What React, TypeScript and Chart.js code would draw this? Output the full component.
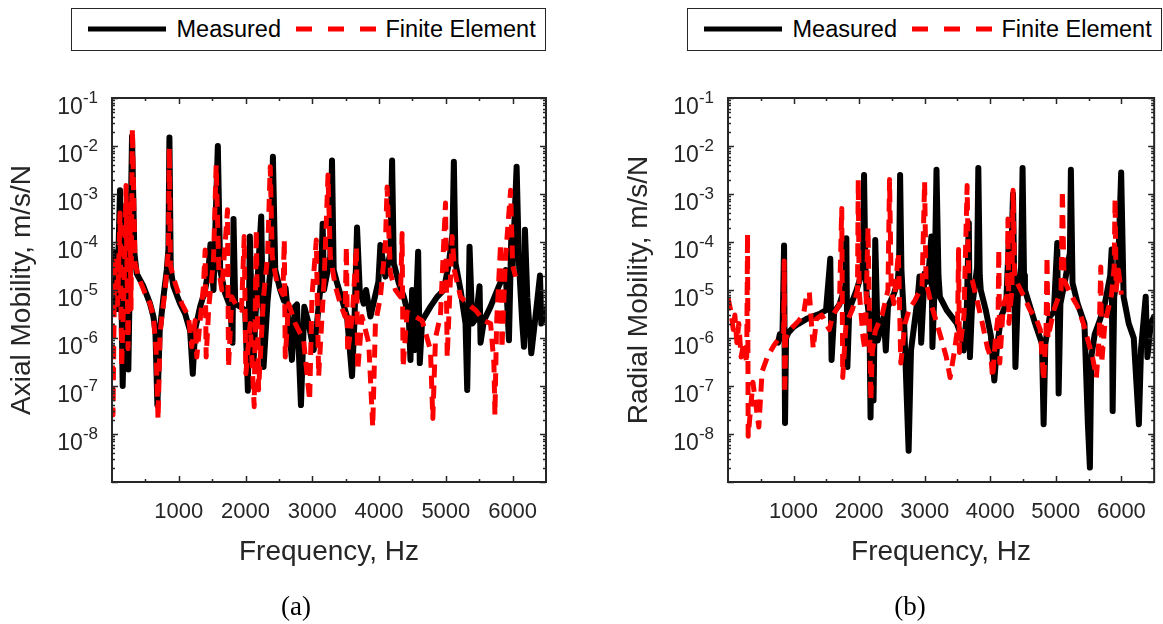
import React, { useEffect, useRef } from "react";
import { Chart, registerables } from "chart.js";

Chart.register(...registerables);

const SANS = "'Liberation Sans', Arial, Helvetica, sans-serif";
const SERIF = "'Liberation Serif', 'Times New Roman', serif";
const AXIS_COLOR = "#262626";

// ---- ticks ----
const xTickValues = [500, 1000, 1500, 2000, 2500, 3000, 3500, 4000, 4500, 5000, 5500, 6000];
const xTickLabels = ["", "1000", "", "2000", "", "3000", "", "4000", "", "5000", "", "6000"];
const yTickValues = [1e-9, 1e-8, 1e-7, 1e-6, 1e-5, 1e-4, 1e-3, 1e-2, 1e-1];
const yTickBase = ["", "10", "10", "10", "10", "10", "10", "10", "10"];
const yTickExponent = ["", "-8", "-7", "-6", "-5", "-4", "-3", "-2", "-1"];
const yMinorFactors = [2, 3, 4, 5, 6, 7, 8, 9];

// ---- data: [frequency Hz, mobility m/s/N] ----
const axialMeasured: [number, number][] = [
  [10, 4e-6], [50, 6e-5], [75, 4e-6], [120, 1.2e-3], [160, 1e-7], [215, 6e-4], [245, 2.2e-7],
  [300, 1.6e-2], [335, 6e-5], [370, 2.2e-5], [470, 1.2e-5], [570, 5.2e-6], [620, 2.8e-6],
  [650, 1.4e-6], [680, 4e-8], [715, 1.4e-6], [770, 7e-6], [820, 2.6e-5], [845, 7e-5],
  [860, 1.5e-2], [880, 2.6e-5], [920, 1.2e-5], [1020, 5.2e-6], [1095, 3.2e-6], [1170, 1.4e-6],
  [1210, 1.8e-7], [1245, 1.5e-6], [1320, 4.5e-6], [1395, 1e-5], [1445, 2.6e-5], [1475, 9e-5],
  [1520, 1e-5], [1585, 1e-2], [1620, 2.6e-5], [1695, 8.5e-6], [1770, 4.5e-6], [1805, 8e-7],
  [1820, 3e-4], [1845, 5.2e-6], [1920, 4.5e-6], [1995, 3.8e-6], [2035, 8e-8], [2065, 1.3e-4],
  [2090, 4e-6], [2120, 3e-7], [2150, 3e-6], [2235, 3.4e-4], [2270, 2.5e-7], [2330, 6e-6],
  [2385, 4e-5], [2410, 6e-3], [2445, 2.6e-5], [2520, 1e-5], [2575, 6e-6], [2600, 1.1e-5],
  [2695, 3.5e-7], [2740, 4.5e-6], [2770, 5e-6], [2830, 4e-8], [2880, 4.5e-6], [2945, 2e-6],
  [3020, 5.6e-7], [3070, 2e-6], [3130, 1.5e-5], [3155, 2.4e-4], [3175, 1e-5], [3270, 5e-5],
  [3295, 5e-3], [3320, 2.6e-5], [3370, 1.4e-5], [3445, 6.3e-6], [3520, 2.8e-6], [3595, 1.6e-7],
  [3630, 2e-6], [3670, 2e-4], [3710, 1e-5], [3770, 5.2e-6], [3805, 1e-5], [3870, 2.8e-6],
  [3990, 1.5e-5], [4020, 8.7e-5], [4095, 1.9e-5], [4170, 6e-5], [4195, 5e-3], [4220, 3.6e-5],
  [4295, 1.4e-5], [4370, 7.2e-6], [4445, 2.8e-6], [4470, 3.5e-7], [4495, 1e-5], [4530, 5.6e-7],
  [4585, 6.3e-5], [4610, 3e-7], [4645, 2.3e-6], [4770, 4.5e-6], [4870, 7.2e-6], [4970, 1e-5],
  [5045, 3.6e-5], [5100, 1.5e-4], [5120, 4.7e-3], [5145, 3.6e-5], [5220, 1e-5], [5295, 2e-6],
  [5320, 8.3e-8], [5355, 8e-5], [5395, 2e-6], [5450, 2.5e-6], [5505, 1.2e-5], [5520, 8e-7],
  [5570, 2.3e-6], [5670, 4.5e-6], [5770, 1e-5], [5895, 2.6e-5], [5945, 9e-7], [5980, 1.3e-4],
  [6000, 3e-5], [6060, 3.7e-3], [6095, 3.6e-5], [6145, 2e-6], [6170, 6.6e-7], [6185, 1.8e-4],
  [6220, 7e-6], [6280, 4.8e-7], [6345, 3e-6], [6410, 2e-5], [6430, 2e-6], [6520, 4.5e-6],
];

const axialFiniteElement: [number, number][] = [
  [0, 2e-6], [15, 2.5e-8], [35, 1e-5], [60, 5e-5], [85, 5e-6], [120, 4e-4], [145, 2.5e-7],
  [185, 2e-5], [210, 1.5e-3], [240, 6e-7], [265, 6e-4], [285, 4e-6], [305, 2.3e-2], [345, 3.6e-5],
  [395, 1.9e-5], [495, 8.5e-6], [570, 5.2e-6], [620, 2.8e-6], [660, 5.6e-7], [690, 2e-8],
  [720, 1.3e-6], [795, 1e-5], [845, 6.8e-5], [858, 9e-3], [875, 3.2e-5], [945, 1.4e-5],
  [1045, 5.2e-6], [1145, 2.8e-6], [1195, 6.6e-7], [1245, 2.3e-6], [1270, 4e-7], [1320, 2.3e-6],
  [1370, 1.2e-5], [1395, 6.8e-5], [1410, 4e-7], [1450, 4.5e-6], [1520, 4.2e-5], [1560, 4e-3],
  [1600, 2.6e-5], [1645, 1e-5], [1730, 4.7e-4], [1745, 2.5e-7], [1795, 7.2e-6], [1870, 4.5e-6],
  [1940, 3.8e-6], [1980, 1.3e-4], [2005, 1.8e-7], [2070, 2e-6], [2130, 3.7e-8], [2160, 1.8e-4],
  [2195, 8.3e-8], [2270, 7.2e-6], [2330, 5e-5], [2370, 3.7e-3], [2400, 5e-5], [2470, 1.4e-5],
  [2560, 8e-6], [2580, 1.1e-4], [2595, 4e-7], [2645, 5.2e-6], [2745, 2e-6], [2870, 9e-7],
  [2960, 5e-8], [2995, 7.2e-6], [3060, 1.1e-4], [3095, 1.6e-7], [3180, 2e-5], [3235, 2.5e-3],
  [3270, 5e-5], [3345, 1.2e-5], [3420, 5.2e-6], [3490, 2.8e-6], [3510, 8e-5], [3530, 4.8e-7],
  [3600, 3e-6], [3660, 8e-5], [3680, 2.1e-7], [3745, 2.8e-6], [3845, 7.9e-7], [3905, 1.4e-8],
  [3945, 2e-6], [4020, 7.2e-6], [4095, 9.3e-5], [4120, 1.4e-3], [4170, 2.2e-5], [4245, 1e-5],
  [4320, 7.2e-6], [4345, 1.5e-4], [4360, 2.5e-7], [4420, 3.5e-6], [4645, 2.3e-6], [4770, 5.6e-7],
  [4805, 2.1e-8], [4845, 1e-6], [4920, 3e-6], [4995, 6.5e-4], [5020, 4e-7], [5095, 1.3e-4],
  [5130, 2.5e-5], [5220, 7.2e-6], [5320, 5.2e-6], [5445, 3.8e-6], [5570, 2.3e-6], [5670, 2e-6],
  [5720, 3e-7], [5735, 2.5e-8], [5760, 2e-6], [5820, 9.3e-5], [5840, 6e-7], [5895, 5e-5],
  [5970, 1.2e-3], [6000, 3.2e-5], [6045, 1.9e-5],
];

const radialMeasured: [number, number][] = [
  [765, 8e-7], [790, 1.2e-6], [830, 1e-6], [855, 8.5e-5], [870, 1.7e-8], [885, 1e-6],
  [923, 1.3e-6], [1000, 1.7e-6], [1080, 2e-6], [1200, 2.5e-6], [1290, 2.8e-6], [1400, 3.2e-6],
  [1495, 3.8e-6], [1560, 4.5e-5], [1580, 3.5e-7], [1620, 3.5e-6], [1700, 5e-6], [1790, 1.2e-5],
  [1805, 1.2e-4], [1821, 2.5e-7], [1850, 4e-6], [1961, 1e-5], [2030, 2e-5], [2060, 4e-5],
  [2075, 2.5e-3], [2095, 3e-5], [2117, 7.2e-6], [2158, 2.3e-6], [2174, 2.2e-8], [2195, 3e-6],
  [2220, 5e-8], [2235, 2e-6], [2246, 1.1e-4], [2283, 8.9e-7], [2376, 2.8e-6], [2407, 5.5e-7],
  [2440, 4.5e-6], [2532, 8.5e-6], [2590, 1.5e-5], [2610, 4e-5], [2625, 2.5e-3], [2645, 2.7e-5],
  [2687, 2e-6], [2755, 4.5e-9], [2791, 5.5e-7], [2843, 2e-6], [2895, 7.2e-6], [2921, 1.9e-5],
  [2947, 8e-7], [2999, 2.2e-5], [3050, 1.5e-5], [3102, 1.3e-4], [3118, 6.5e-7], [3150, 1e-5],
  [3180, 3.2e-3], [3210, 2e-5], [3232, 7.2e-6], [3336, 3.8e-6], [3491, 2e-6], [3570, 1e-6],
  [3595, 5.5e-7], [3640, 3e-6], [3673, 2.5e-4], [3690, 4e-7], [3720, 4e-6], [3800, 3e-5],
  [3818, 3.5e-3], [3840, 2e-5], [3855, 1e-5], [3932, 3.8e-6], [4010, 1.1e-6], [4062, 1.3e-7],
  [4100, 6e-7], [4166, 2.8e-6], [4244, 5.2e-6], [4285, 1.3e-4], [4300, 5e-6], [4347, 1e-3],
  [4384, 2.5e-7], [4420, 7.2e-6], [4470, 3e-5], [4493, 3.5e-3], [4515, 2e-5], [4529, 1e-5],
  [4607, 4.5e-6], [4685, 2e-6], [4789, 7.6e-7], [4814, 1.6e-8], [4840, 7.6e-7], [4908, 2.8e-6],
  [4970, 3.5e-6], [5022, 9.5e-5], [5043, 7e-8], [5070, 5.2e-6], [5152, 1.9e-5], [5215, 6e-5],
  [5230, 3.2e-3], [5255, 1.4e-5], [5333, 5.2e-6], [5437, 2e-6], [5489, 1.6e-8], [5520, 2e-9],
  [5541, 4e-7], [5593, 1.2e-6], [5670, 2.3e-6], [5748, 5.2e-6], [5830, 2e-5], [5852, 7e-5],
  [5867, 3e-8], [5890, 7e-6], [5950, 3e-5], [5997, 2.8e-3], [6034, 7.2e-6], [6112, 2e-6],
  [6189, 1e-6], [6267, 1.6e-8], [6300, 6e-7], [6371, 7.2e-6], [6397, 4e-7], [6449, 2e-6],
  [6500, 2.8e-6],
];

const radialFiniteElement: [number, number][] = [
  [0, 7e-6], [45, 3.5e-6], [80, 1.5e-6], [105, 3e-6], [135, 8e-7], [165, 2e-6], [200, 4e-7],
  [240, 8e-7], [285, 3e-7], [298, 1.5e-4], [308, 9e-9], [380, 1.2e-7], [470, 1.4e-8],
  [520, 2e-7], [600, 4e-7], [700, 7e-7], [780, 1e-6], [850, 1.3e-6], [857, 4e-5], [865, 7e-8],
  [880, 1e-6], [950, 1.5e-6], [1080, 2.3e-6], [1150, 3e-6], [1200, 8e-6], [1240, 9e-6],
  [1300, 6e-7], [1350, 2.5e-6], [1430, 3e-6], [1545, 1.5e-6], [1600, 3e-6], [1700, 5e-6],
  [1735, 5e-4], [1750, 1.5e-7], [1800, 2e-6], [1900, 4e-6], [1975, 1e-5], [1987, 2e-3],
  [2000, 1e-5], [2060, 1e-6], [2091, 5.5e-7], [2135, 2e-4], [2179, 5e-8], [2200, 5e-7],
  [2246, 1.4e-6], [2350, 3e-6], [2440, 1e-5], [2464, 2e-3], [2490, 1e-5], [2532, 5.2e-6],
  [2599, 6e-5], [2636, 3e-7], [2700, 2e-6], [2765, 4e-6], [2850, 6e-6], [2960, 1.2e-5],
  [2999, 1.8e-3], [3020, 1.5e-5], [3100, 5e-6], [3250, 1e-6], [3330, 4e-7], [3388, 1.5e-7],
  [3450, 5e-7], [3500, 1.5e-6], [3517, 7e-5], [3530, 5e-7], [3600, 3e-6], [3647, 1.5e-3],
  [3670, 2e-5], [3725, 1.6e-5], [3800, 6e-6], [3880, 2e-6], [3960, 6e-7], [4010, 4e-7],
  [4036, 1.5e-7], [4080, 1e-6], [4120, 3e-6], [4130, 7e-5], [4145, 3e-7], [4200, 5e-6],
  [4260, 8e-6], [4270, 3e-4], [4285, 2e-6], [4330, 1e-5], [4348, 1.2e-3], [4370, 2e-5],
  [4400, 1.5e-5], [4500, 8e-6], [4600, 4e-6], [4700, 2.5e-6], [4763, 1.5e-6], [4814, 1.3e-7],
  [4850, 1.2e-6], [4866, 5e-5], [4880, 1e-6], [4970, 3.8e-6], [5080, 1e-5], [5100, 1.2e-3],
  [5126, 1.6e-5], [5230, 8e-6], [5333, 4.5e-6], [5420, 2e-6], [5489, 9e-7], [5560, 4e-7],
  [5619, 1.5e-7], [5660, 1e-6], [5686, 3e-5], [5700, 3e-7], [5748, 2e-6], [5850, 8e-6],
  [5890, 3e-5], [5904, 8e-4], [5920, 1e-5], [5956, 2.6e-5], [6000, 8e-6],
];

const toPoints = (d: [number, number][]) => d.map(([x, y]) => ({ x, y }));

// Draws the box frame, inward tick marks and the power-of-ten y labels
const frameTicksPlugin = {
  id: "frameTicks",
  afterDatasetsDraw(chart: any) {
    const { ctx, chartArea } = chart;
    const { left, top, right, bottom } = chartArea;
    const xs = chart.scales.x;
    const ys = chart.scales.y;
    ctx.save();
    ctx.strokeStyle = AXIS_COLOR;
    ctx.lineWidth = 1.5;
    ctx.beginPath();
    xs.ticks.forEach((t: any) => {
      const px = Math.round(xs.getPixelForValue(t.value)) + 0.5;
      const len = t.value % 1000 === 0 ? 6 : 3;
      ctx.moveTo(px, bottom);
      ctx.lineTo(px, bottom - len);
      ctx.moveTo(px, top);
      ctx.lineTo(px, top + len);
    });
    ys.ticks.forEach((t: any) => {
      const py = Math.round(ys.getPixelForValue(t.value)) + 0.5;
      ctx.moveTo(left, py);
      ctx.lineTo(left + 6, py);
      ctx.moveTo(right, py);
      ctx.lineTo(right - 6, py);
      yMinorFactors.forEach((k) => {
        const v = t.value * k;
        if (v >= 0.1) return;
        const pm = Math.round(ys.getPixelForValue(v)) + 0.5;
        ctx.moveTo(left, pm);
        ctx.lineTo(left + 3, pm);
        ctx.moveTo(right, pm);
        ctx.lineTo(right - 3, pm);
      });
    });
    ctx.stroke();
    ctx.lineWidth = 2;
    ctx.strokeRect(left, top, right - left, bottom - top);

    // y tick labels: base "10" with raised exponent
    ctx.fillStyle = AXIS_COLOR;
    ctx.textBaseline = "alphabetic";
    ys.ticks.forEach((t: any, i: number) => {
      const base = yTickBase[i];
      const exp = yTickExponent[i];
      if (!base) return;
      const py = ys.getPixelForValue(t.value);
      const xr = left - 14;
      ctx.font = `17px ${SANS}`;
      ctx.textAlign = "right";
      const ew = ctx.measureText(exp).width;
      ctx.fillText(exp, xr, py + 4.5);
      ctx.font = `23px ${SANS}`;
      ctx.fillText(base, xr - ew, py + 16);
    });
    ctx.restore();
  },
};

type PanelProps = {
  left: number;
  width: number;
  yTitle: string;
  yAxisWidth: number;
  yTitlePad: number;
  padRight: number;
  measured: [number, number][];
  fe: [number, number][];
};

const HEIGHT = 624;

function Panel(p: PanelProps) {
  const ref = useRef<HTMLCanvasElement>(null);
  useEffect(() => {
    if (!ref.current) return;
    const chart = new Chart(ref.current, {
      type: "line",
      data: {
        datasets: [
          {
            label: "Finite Element",
            data: toPoints(p.fe),
            borderColor: "#ff0000",
            borderWidth: 5,
            borderDash: [13, 8],
            borderCapStyle: "butt",
            borderJoinStyle: "round",
            pointRadius: 0,
            fill: false,
            tension: 0,
          },
          {
            label: "Measured",
            data: toPoints(p.measured),
            borderColor: "#000000",
            borderWidth: 6,
            borderCapStyle: "round",
            borderJoinStyle: "round",
            pointRadius: 0,
            fill: false,
            tension: 0,
          },
        ],
      } as any,
      options: {
        animation: false,
        responsive: false,
        devicePixelRatio: 1,
        events: [],
        parsing: false,
        layout: { padding: { top: 98, right: p.padRight, bottom: 0, left: 0 } },
        plugins: { legend: { display: false }, tooltip: { enabled: false } },
        scales: {
          x: {
            type: "linear",
            min: 0,
            max: 6500,
            afterBuildTicks: (s: any) => {
              s.ticks = xTickValues.map((v) => ({ value: v }));
            },
            afterFit: (s: any) => {
              s.height = HEIGHT - 482;
            },
            grid: { display: false, drawTicks: false, tickLength: 0 },
            border: { display: false },
            ticks: {
              autoSkip: false,
              maxRotation: 0,
              padding: 17,
              color: AXIS_COLOR,
              font: { family: SANS, size: 22 },
              callback: (_v: any, i: number) => xTickLabels[i],
            },
            title: {
              display: true,
              text: "Frequency, Hz",
              color: AXIS_COLOR,
              font: { family: SANS, size: 28 },
              padding: { top: 0, bottom: 55 },
            },
          },
          y: {
            type: "logarithmic",
            min: 1e-9,
            max: 1e-1,
            afterBuildTicks: (s: any) => {
              s.ticks = yTickValues.map((v) => ({ value: v, major: true }));
            },
            afterFit: (s: any) => {
              s.width = p.yAxisWidth;
            },
            grid: { display: false, drawTicks: false, tickLength: 0 },
            border: { display: false },
            ticks: { display: false },
            title: {
              display: true,
              text: p.yTitle,
              color: AXIS_COLOR,
              font: { family: SANS, size: 28 },
              padding: { top: p.yTitlePad, bottom: 0 },
            },
          },
        },
      } as any,
      plugins: [frameTicksPlugin],
    });
    return () => chart.destroy();
  }, []);
  return (
    <canvas
      ref={ref}
      width={p.width}
      height={HEIGHT}
      style={{ position: "absolute", left: p.left, top: 0, width: p.width, height: HEIGHT }}
    />
  );
}

function Legend({ x }: { x: number }) {
  return (
    <g transform={`translate(${x},8)`}>
      <rect x={0.5} y={0.5} width={474} height={42} fill="#ffffff" stroke={AXIS_COLOR} strokeWidth={1} />
      <line x1={17} x2={95} y1={21} y2={21} stroke="#000000" strokeWidth={5} />
      <text x={105.5} y={29} fontFamily={SANS} fontSize={23.5} fill="#000000">
        Measured
      </text>
      <line x1={225} x2={305} y1={21} y2={21} stroke="#ff0000" strokeWidth={5} strokeDasharray="16 16" />
      <text x={314.5} y={29} fontFamily={SANS} fontSize={23.5} fill="#000000">
        Finite Element
      </text>
    </g>
  );
}

export default function App() {
  return (
    <div
      style={{
        position: "fixed",
        left: 0,
        top: 0,
        width: 1163,
        height: HEIGHT,
        background: "#ffffff",
        overflow: "hidden",
      }}
    >
      <Panel
        left={0}
        width={580}
        yTitle="Axial Mobility, m/s/N"
        yAxisWidth={112}
        yTitlePad={5}
        padRight={34}
        measured={axialMeasured}
        fe={axialFiniteElement}
      />
      <Panel
        left={580}
        width={583}
        yTitle="Radial Mobility, m/s/N"
        yAxisWidth={148}
        yTitlePad={42}
        padRight={2}
        measured={radialMeasured}
        fe={radialFiniteElement}
      />
      <svg
        width={1163}
        height={HEIGHT}
        style={{ position: "absolute", left: 0, top: 0, pointerEvents: "none" }}
      >
        <Legend x={71} />
        <Legend x={687} />
        <text x={296} y={615} textAnchor="middle" fontFamily={SERIF} fontSize={27} fill="#000000">
          (a)
        </text>
        <text x={910} y={615} textAnchor="middle" fontFamily={SERIF} fontSize={27} fill="#000000">
          (b)
        </text>
      </svg>
    </div>
  );
}
